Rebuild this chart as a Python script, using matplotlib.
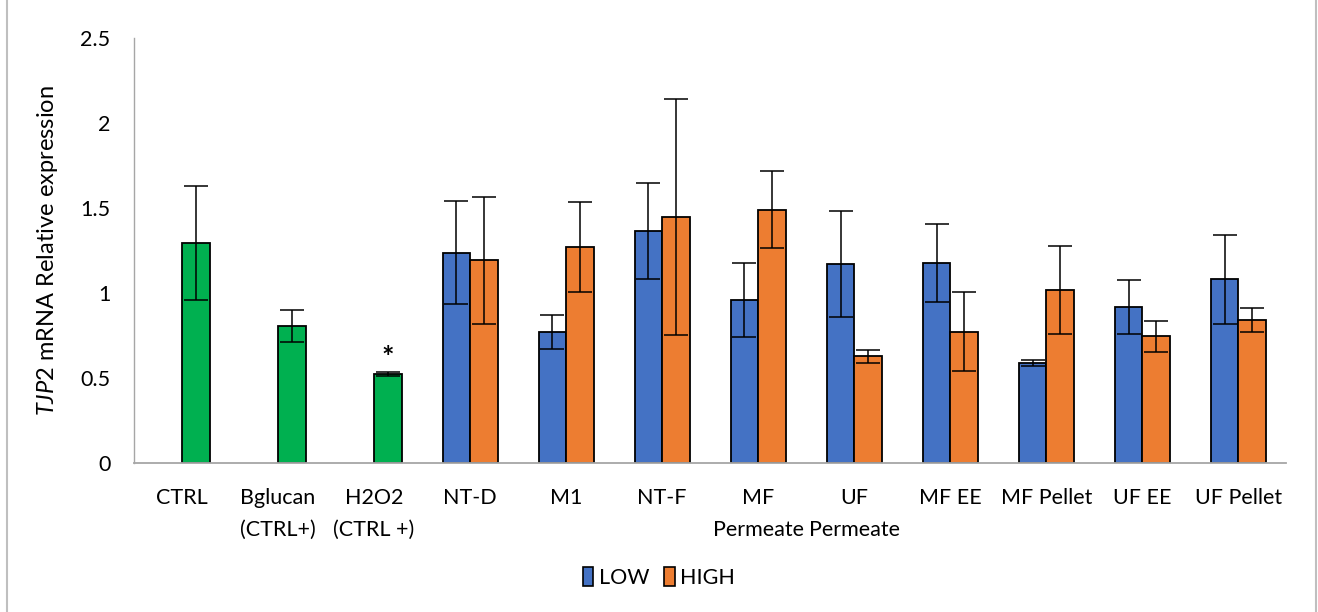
import numpy as np
import matplotlib.pyplot as plt
from matplotlib.patches import Patch, Rectangle

plt.rcParams['font.family'] = ['Lato', 'DejaVu Sans']
plt.rcParams['mathtext.fontset'] = 'custom'
plt.rcParams['mathtext.it'] = 'Lato:italic'
plt.rcParams['mathtext.rm'] = 'Lato'

categories = ["CTRL", "Bglucan\n(CTRL+)", "H2O2\n(CTRL +)", "NT-D", "M1", "NT-F",
              "MF\nPermeate", "UF\nPermeate", "MF EE", "MF Pellet", "UF EE", "UF Pellet"]

# controls only have one bar (drawn in the HIGH slot, green)
low = [np.nan, np.nan, np.nan, 1.237, 0.771, 1.365, 0.959, 1.171, 1.176, 0.586, 0.918, 1.082]
low_err = [0, 0, 0, 0.304, 0.100, 0.280, 0.218, 0.310, 0.227, 0.018, 0.160, 0.262]
high = [1.292, 0.806, 0.524, 1.192, 1.273, 1.449, 1.490, 0.627, 0.773, 1.018, 0.745, 0.841]
high_err = [0.335, 0.093, 0.012, 0.373, 0.265, 0.695, 0.225, 0.040, 0.233, 0.257, 0.091, 0.070]
n_controls = 3
signif = ["", "", "*", "", "", "", "", "", "", "", "", ""]

blue = "#4472C4"
orange = "#ED7D31"
green = "#00B050"

fig = plt.figure(figsize=(13.18, 6.12), dpi=100)
ax = fig.add_axes([0.1017, 0.2435, 0.8743, 0.6944])

x = np.arange(len(categories))
w = 0.286
high_colors = [green] * n_controls + [orange] * (len(categories) - n_controls)

ekw = dict(elinewidth=1.1, capthick=1.1, ecolor="black")
ax.bar(x - w / 2, low, w, color=blue, edgecolor="black", linewidth=1.3,
       yerr=low_err, capsize=8.5, error_kw=ekw, zorder=2)
ax.bar(x + w / 2, high, w, color=high_colors, edgecolor="black", linewidth=1.3,
       yerr=high_err, capsize=8.5, error_kw=ekw, zorder=2)

for i, s in enumerate(signif):
    if s:
        ax.text(x[i] + w / 2, high[i] + high_err[i] + 0.005, s, ha="center", va="bottom",
                fontsize=21, fontweight="bold")

ax.set_xlim(-0.5, len(categories) - 0.5)
ax.set_ylim(0, 2.5)
ax.set_yticks([0, 0.5, 1, 1.5, 2, 2.5])
ax.set_yticklabels(["0", "0.5", "1", "1.5", "2", "2.5"])
ax.set_xticks(x)
ax.set_xticklabels(categories, linespacing=1.75)
ax.tick_params(axis="y", length=0, pad=17, labelsize=15.5)
ax.tick_params(axis="x", length=0, pad=18, labelsize=15.5)

for side in ["top", "right"]:
    ax.spines[side].set_visible(False)
ax.spines["left"].set_color("#A6A6A6")
ax.spines["bottom"].set_color("#A6A6A6")
ax.spines["left"].set_linewidth(1.0)
ax.spines["bottom"].set_linewidth(1.3)

ax.set_ylabel(r"$\it{TJP2}$ mRNA Relative expression", fontsize=17)
ax.yaxis.set_label_coords(-0.064, 0.5)

handles = [Patch(facecolor=blue, edgecolor="black", linewidth=1.2, label="LOW"),
           Patch(facecolor=orange, edgecolor="black", linewidth=1.2, label="HIGH")]
fig.legend(handles=handles, loc="center", bbox_to_anchor=(0.5, 0.057), ncol=2,
           frameon=False, fontsize=15.5, handlelength=0.5, handleheight=1.0,
           handletextpad=0.25, columnspacing=0.7)

# chart border
fig.patches.append(Rectangle((7 / 1318, -0.01), 1309 / 1318, 1.02, transform=fig.transFigure,
                             fill=False, edgecolor="#BFBFBF", linewidth=1.5))

fig.savefig("out.png", dpi=100)
